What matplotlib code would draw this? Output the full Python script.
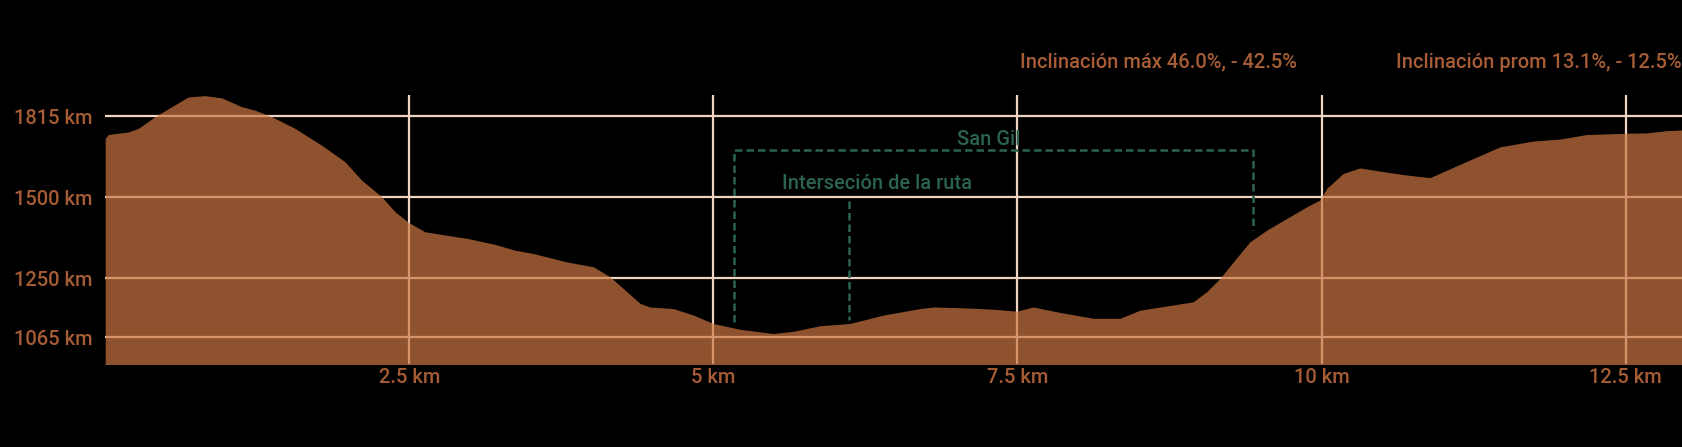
import matplotlib
matplotlib.use("Agg")
import matplotlib.pyplot as plt

plt.rcParams['font.family'] = ['Roboto', 'DejaVu Sans']
plt.rcParams['font.weight'] = 'medium'

# distance (km) and elevation
dist_km = [0.0, 0.025, 0.19, 0.272, 0.409, 0.547, 0.683, 0.82, 0.958, 1.122,
           1.232, 1.369, 1.56, 1.78, 1.971, 2.109, 2.273, 2.382, 2.492, 2.629,
           2.794, 2.985, 3.205, 3.369, 3.519, 3.794, 4.013, 4.15, 4.259, 4.397,
           4.479, 4.67, 4.835, 4.999, 5.219, 5.492, 5.657, 5.876, 6.123, 6.397,
           6.698, 6.808, 7.083, 7.301, 7.494, 7.63, 7.849, 8.123, 8.343, 8.507,
           8.727, 8.945, 9.055, 9.165, 9.274, 9.411, 9.549, 9.713, 9.878, 9.987,
           10.042, 10.178, 10.316, 10.48, 10.7, 10.891, 11.029, 11.247, 11.467, 11.741,
           11.96, 12.18, 12.508, 12.673, 12.837, 12.963]
elev = [1681, 1693, 1701, 1712, 1748, 1779, 1809, 1813, 1806, 1779,
        1768, 1748, 1712, 1660, 1609, 1552, 1501, 1455, 1422, 1393,
        1383, 1372, 1354, 1336, 1326, 1300, 1285, 1254, 1218, 1172,
        1161, 1156, 1136, 1110, 1092, 1079, 1086, 1103, 1110, 1136,
        1156, 1161, 1158, 1154, 1148, 1161, 1144, 1126, 1126, 1151,
        1164, 1177, 1208, 1249, 1300, 1362, 1398, 1434, 1470, 1491,
        1527, 1573, 1590, 1580, 1568, 1560, 1583, 1619, 1655, 1673,
        1679, 1693, 1697, 1698, 1705, 1707]

x_ticks = [2.5, 5, 7.5, 10, 12.5]
x_labels = ["2.5 km", "5 km", "7.5 km", "10 km", "12.5 km"]
y_ticks = [1068, 1250, 1500, 1750]
y_labels = ["1065 km", "1250 km", "1500 km", "1815 km"]

san_gil = (5.172, 9.434, 1645, 1115, 1398)   # left, right, top, left bottom, right bottom
cruce = (6.117, 1488, 1120)                 # x, top, bottom

brown = '#cc7742'
grid_c = '#f0d4c2'
label_c = '#a65d35'
green = '#2a6352'

fig = plt.figure(figsize=(16.82, 4.47), dpi=100, facecolor='black')
ax = fig.add_axes([105.2 / 1682, 1 - 364 / 447, (1682 - 105.2) / 1682, 269 / 447])
ax.set_facecolor('black')

for yv in y_ticks:
    ax.axhline(yv, color=grid_c, lw=1.6, zorder=1)
for xv in x_ticks:
    ax.axvline(xv, color=grid_c, lw=1.6, zorder=1)

ax.fill_between(dist_km, elev, 900, color=brown, alpha=0.7, lw=0, zorder=2)

# dashed markers
l, r, top, lb, rb = san_gil
ax.plot([l, l, r, r], [lb, top, top, rb], color=green, lw=1.8,
        ls=(0, (3, 1.6)), zorder=3)
ax.plot([cruce[0], cruce[0]], [cruce[1], cruce[2]], color=green, lw=1.8,
        ls=(0, (3, 1.6)), zorder=3)
ax.text(7.266, 1678, "San Gil", color=green, fontsize=14.5, ha='center', va='center', zorder=4)
ax.text(6.349, 1542, "Interseción de la ruta", color=green, fontsize=14.5,
        ha='center', va='center', zorder=4)

ax.set_xlim(0, 12.963)
ax.set_ylim(985, 1815)
ax.set_xticks(x_ticks)
ax.set_xticklabels(x_labels)
ax.set_yticks(y_ticks)
ax.set_yticklabels(y_labels)
ax.tick_params(length=0, labelsize=14.5, labelcolor=label_c)
ax.tick_params(axis='y', pad=9)
ax.tick_params(axis='x', pad=3)
for s in ax.spines.values():
    s.set_visible(False)

fig.text(1020 / 1682, 1 - 62 / 447, "Inclinación máx 46.0%, - 42.5%", color=label_c,
         fontsize=14.5, ha='left', va='center')
fig.text(1.0, 1 - 62 / 447, "Inclinación prom 13.1%, - 12.5%", color=label_c,
         fontsize=14.5, ha='right', va='center')

fig.savefig("out.png", dpi=100, facecolor='black')
